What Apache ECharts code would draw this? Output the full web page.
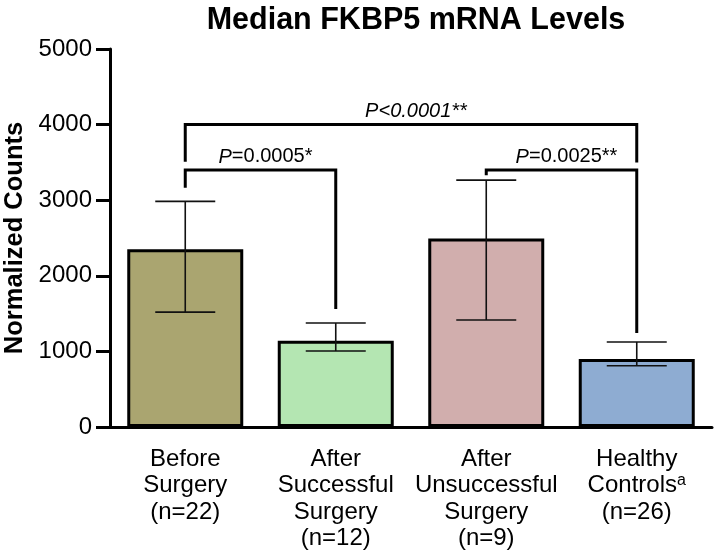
<!DOCTYPE html>
<html>
<head>
<meta charset="utf-8">
<script src="https://cdn.jsdelivr.net/npm/echarts@6/dist/echarts.min.js"></script>
<style>html,body{margin:0;padding:0;background:#fff}#c{width:714px;height:552px}</style>
</head>
<body>
<div id="c"></div>
<script>
const categories = [
  'Before\nSurgery\n(n=22)',
  'After\nSuccessful\nSurgery\n(n=12)',
  'After\nUnsuccessful\nSurgery\n(n=9)',
  'Healthy\nControls{sup|a}\n(n=26)'
];
const medians = [2350, 1140, 2495, 900];
const errLow = [1520, 1005, 1415, 810];
const errHigh = [2985, 1375, 3265, 1125];
const barColors = ['#aaa570', '#b4e6b2', '#d1aead', '#8eacd2'];
// brackets: [fromCategory, toCategory, bracketHeight, leftLegEnd, rightLegEnd]
const bracketFrom = [0, 0, 2];
const bracketTo = [3, 1, 3];
const bracketY = [4000, 3400, 3400];
const bracketLeftEnd = [3510, 3165, 3330];
const bracketRightEnd = [3500, 1560, 1245];
const bracketLabels = ['{i|P<0.0001**}', '{i|P}=0.0005*', '{i|P}=0.0025**'];

const FONT = 'Liberation Sans, Arial, sans-serif';
const chart = echarts.init(document.getElementById('c'));

const errData = medians.map((m, i) => [i, errLow[i], errHigh[i]]);
const brData = bracketFrom.map((f, i) => [f, bracketTo[i], bracketY[i], bracketLeftEnd[i], bracketRightEnd[i]]);

chart.setOption({
  animation: false,
  backgroundColor: '#fff',
  title: {
    text: 'Median FKBP5 mRNA Levels',
    left: 411, top: 0, textAlign: 'center',
    textStyle: { fontFamily: FONT, fontWeight: 'bold', fontSize: 30.5, color: '#000' }
  },
  grid: { left: 110, right: 2, top: 49, bottom: 125, containLabel: false, outerBoundsMode: 'none' },
  xAxis: {
    type: 'category',
    data: categories,
    axisLine: { lineStyle: { color: '#000', width: 3 } },
    axisTick: { alignWithLabel: true, length: 14, lineStyle: { color: '#000', width: 3 } },
    axisLabel: {
      interval: 0, margin: 19, color: '#000', fontFamily: FONT, fontSize: 24, lineHeight: 26.5,
      rich: { sup: { fontFamily: FONT, fontSize: 16, verticalAlign: 'top', lineHeight: 24, color: '#000' } }
    }
  },
  yAxis: {
    type: 'value', min: 0, max: 5000, interval: 1000,
    name: 'Normalized Counts', nameLocation: 'middle', nameGap: 77,
    nameTextStyle: { fontFamily: FONT, fontWeight: 'bold', fontSize: 25.5, color: '#000' },
    axisLine: { show: true, lineStyle: { color: '#000', width: 3 } },
    axisTick: { show: true, length: 14, lineStyle: { color: '#000', width: 3 } },
    axisLabel: { margin: 18, color: '#000', fontFamily: FONT, fontSize: 24, formatter: v => String(v) },
    splitLine: { show: false }
  },
  series: [
    {
      type: 'bar',
      barWidth: 116,
      data: medians.map((v, i) => ({ value: v, itemStyle: { color: barColors[i] } })),
      itemStyle: { borderColor: '#000', borderWidth: 3 },
      z: 2
    },
    {
      type: 'custom',
      data: errData,
      encode: { x: 0, y: [1, 2] },
      z: 3,
      renderItem: function (params, api) {
        const lo = api.coord([api.value(0), api.value(1)]);
        const hi = api.coord([api.value(0), api.value(2)]);
        const hw = 30;
        const st = { stroke: '#111', lineWidth: 1.6 };
        return {
          type: 'group',
          children: [
            { type: 'line', shape: { x1: lo[0], y1: lo[1], x2: hi[0], y2: hi[1] }, style: st },
            { type: 'line', shape: { x1: lo[0] - hw, y1: lo[1], x2: lo[0] + hw, y2: lo[1] }, style: st },
            { type: 'line', shape: { x1: hi[0] - hw, y1: hi[1], x2: hi[0] + hw, y2: hi[1] }, style: st }
          ]
        };
      }
    },
    {
      type: 'custom',
      data: brData,
      encode: { x: [0, 1], y: [2, 3, 4] },
      z: 4,
      renderItem: function (params, api) {
        const a = api.coord([api.value(0), api.value(2)]);
        const b = api.coord([api.value(1), api.value(2)]);
        const la = api.coord([api.value(0), api.value(3)]);
        const rb = api.coord([api.value(1), api.value(4)]);
        return {
          type: 'group',
          children: [
            { type: 'polyline', shape: { points: [[la[0], la[1]], [a[0], a[1]], [b[0], b[1]], [rb[0], rb[1]]] },
              style: { stroke: '#000', lineWidth: 3, fill: null, lineJoin: 'miter' } },
            { type: 'text', x: (a[0] + b[0]) / 2 + 5, y: a[1] - 3,
              style: { text: bracketLabels[params.dataIndex], fill: '#000', fontFamily: FONT, fontSize: 20,
                align: 'center', verticalAlign: 'bottom',
                rich: { i: { fontStyle: 'italic', fontFamily: FONT, fontSize: 20, fill: '#000' } } } }
          ]
        };
      }
    }
  ]
});
</script>
</body>
</html>
